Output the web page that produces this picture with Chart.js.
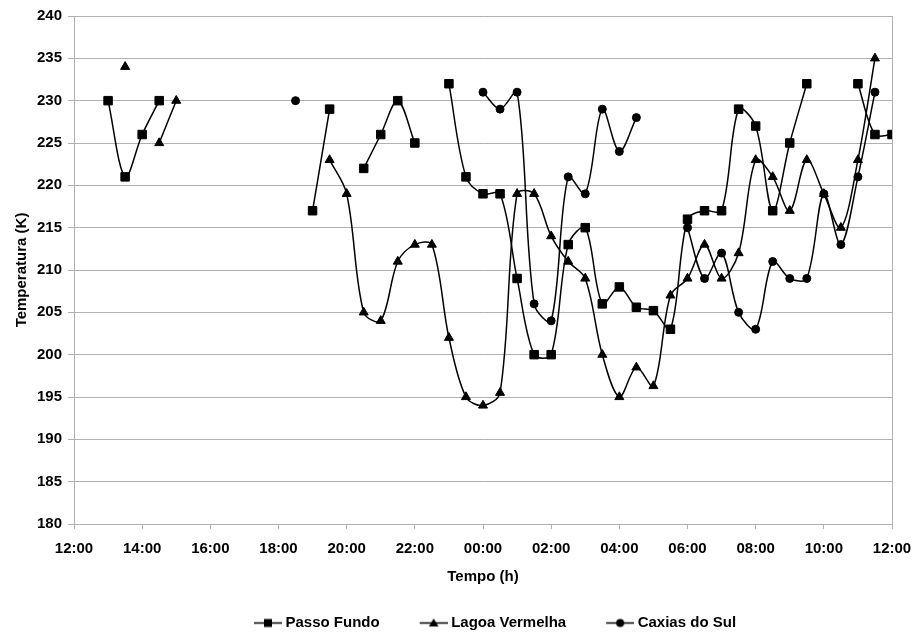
<!DOCTYPE html>
<html>
<head>
<meta charset="utf-8">
<script src="https://cdn.jsdelivr.net/npm/chart.js@4.4.1/dist/chart.umd.min.js"></script>
<style>
  html, body { margin: 0; padding: 0; background: #ffffff; }
  #wrap { width: 914px; height: 633px; position: relative; }
</style>
</head>
<body>
<div id="wrap"><canvas id="c" width="914" height="633"></canvas></div>
<script>
// ---- Data ----
const timeLabels = [
  "13:00","13:30","14:00","14:30","15:00","15:30","16:00","16:30","17:00","17:30",
  "18:00","18:30","19:00","19:30","20:00","20:30","21:00","21:30","22:00","22:30",
  "23:00","23:30","00:00","00:30","01:00","01:30","02:00","02:30","03:00","03:30",
  "04:00","04:30","05:00","05:30","06:00","06:30","07:00","07:30","08:00","08:30",
  "09:00","09:30","10:00","10:30","11:00","11:30","12:00"
];

const passoFundo = [
  230, 221, 226, 230, null, null, null, null, null, null,
  null, null, 217, 229, null, 222, 226, 230, 225, null,
  232, 221, 219, 219, 209, 200, 200, 213, 215, 206,
  208, 205.6, 205.2, 203, 216, 217, 217, 229, 227, 217,
  225, 232, null, null, 232, 226, 226
];

const lagoaVermelha = [
  null, 234, null, 225, 230, null, null, null, null, null,
  null, null, null, 223, 219, 205, 204, 211, 213, 213,
  202, 195, 194, 195.5, 219, 219, 214, 211, 209, 200,
  195, 198.5, 196.3, 207, 209, 213, 209, 212, 223, 221,
  217, 223, 219, 215, 223, 235, null
];

const caxiasDoSul = [
  null, null, null, null, null, null, null, null, null, null,
  null, 230, null, null, null, null, null, null, null, null,
  null, null, 231, 229, 231, 206, 204, 221, 219, 229,
  224, 228, null, null, 215, 209, 212, 205, 203, 211,
  209, 209, 219, 213, 221, 231, null
];

const seriesNames = ["Passo Fundo", "Lagoa Vermelha", "Caxias do Sul"];
const xTickLabels = ["12:00","14:00","16:00","18:00","20:00","22:00","00:00","02:00","04:00","06:00","08:00","10:00","12:00"];
const yTicks = { min: 180, max: 240, step: 5 };

// ---- helpers ----
function toHours(lbl) {
  const [h, m] = lbl.split(":").map(Number);
  const t = h + m / 60;
  return t >= 13 ? t - 12 : t + 12;
}
function toPoints(values) {
  return values.map((v, i) => ({ x: toHours(timeLabels[i]), y: v }));
}

const FONT = { family: "'Liberation Sans', Arial, sans-serif", size: 15, weight: "bold" };
const GRID = "#b0b0b0";

function legendImage(style) {
  const W = 62, H = 15;
  const cv = document.createElement("canvas");
  cv.width = W; cv.height = H;
  const c = cv.getContext("2d");
  const y = H / 2;
  c.strokeStyle = "#000"; c.lineWidth = 1.5;
  c.beginPath(); c.moveTo(34, y); c.lineTo(62, y); c.stroke();
  const cx = 48;
  c.fillStyle = "#000";
  c.beginPath();
  if (style === "rect") {
    c.rect(cx - 4, y - 4, 8, 8);
  } else if (style === "triangle") {
    c.moveTo(cx, y - 4.5); c.lineTo(cx + 4.8, y + 3.5); c.lineTo(cx - 4.8, y + 3.5); c.closePath();
  } else {
    c.arc(cx, y, 4, 0, Math.PI * 2);
  }
  c.fill();
  return cv;
}

const styles = ["rect", "triangle", "circle"];
const radii = [6, 5.2, 4];
const seriesData = [passoFundo, lagoaVermelha, caxiasDoSul];

const datasets = seriesData.map((vals, i) => ({
  label: seriesNames[i],
  data: toPoints(vals),
  borderColor: "#000",
  backgroundColor: "#000",
  borderWidth: 1.5,
  pointStyle: styles[i],
  pointRadius: radii[i],
  pointBorderWidth: 1,
  pointBackgroundColor: "#000",
  pointBorderColor: "#000",
  tension: 0.33,
  spanGaps: false,
  fill: false
}));

const legendImgs = styles.map(legendImage);

const legendShift = {
  id: "legendShift",
  afterLayout(chart) {
    const l = chart.legend;
    if (!l) return;
    const dx = 34, dy = 7.5;
    l.left += dx; l.right += dx; l.top += dy; l.bottom += dy;
  }
};

const bgPlugin = {
  id: "bg",
  beforeDraw(chart) {
    const c = chart.ctx;
    c.save(); c.fillStyle = "#fff"; c.fillRect(0, 0, chart.width, chart.height); c.restore();
  }
};

new Chart(document.getElementById("c"), {
  type: "line",
  data: { datasets },
  plugins: [legendShift, bgPlugin],
  options: {
    responsive: false,
    animation: false,
    devicePixelRatio: 1,
    layout: { padding: { left: 0, right: 22, top: 16, bottom: 0 } },
    plugins: {
      tooltip: { enabled: false },
      legend: {
        position: "bottom",
        labels: {
          font: FONT,
          color: "#000",
          usePointStyle: true,
          pointStyleWidth: 54,
          padding: 10,
          generateLabels(chart) {
            return chart.data.datasets.map((ds, i) => ({
              text: ds.label,
              pointStyle: legendImgs[i],
              fillStyle: "#000",
              strokeStyle: "#000",
              lineWidth: 0,
              hidden: false,
              datasetIndex: i,
              fontColor: "#000"
            }));
          }
        }
      }
    },
    scales: {
      x: {
        type: "linear",
        min: 0,
        max: 24,
        afterFit(s) { s.height = 74; s.paddingLeft = 0; s.paddingRight = 0; },
        ticks: {
          stepSize: 2,
          autoSkip: false,
          maxRotation: 0,
          padding: 11,
          font: FONT,
          color: "#000",
          callback: (v) => xTickLabels[Math.round(v / 2)]
        },
        grid: {
          color: (ctx) => (ctx.tick && ctx.tick.value === 24 ? GRID : "rgba(0,0,0,0)"),
          tickColor: GRID,
          tickLength: 5,
          lineWidth: 1
        },
        border: { color: GRID, width: 1 },
        title: { display: true, text: "Tempo (h)", font: FONT, color: "#000", padding: { top: 4, bottom: 12 } }
      },
      y: {
        min: yTicks.min,
        max: yTicks.max,
        afterFit(s) { s.width = 74; },
        ticks: { stepSize: yTicks.step, padding: 6, font: FONT, color: "#000" },
        grid: { color: GRID, tickColor: GRID, tickLength: 6, lineWidth: 1 },
        border: { color: GRID, width: 1 },
        title: { display: true, text: "Temperatura (K)", font: FONT, color: "#000", padding: { top: 13, bottom: 4 } }
      }
    }
  }
});
</script>
</body>
</html>
